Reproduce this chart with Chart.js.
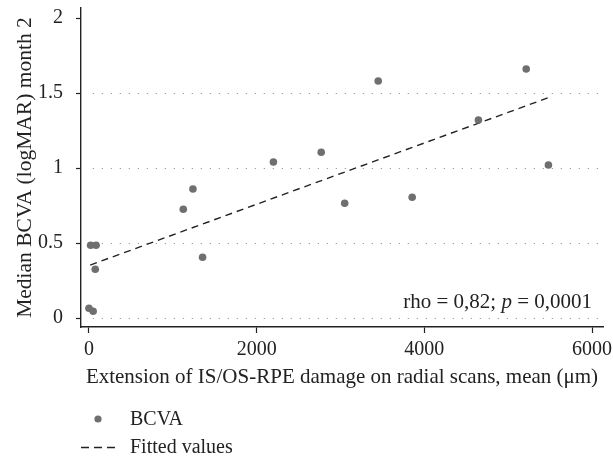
<!DOCTYPE html>
<html>
<head>
<meta charset="utf-8">
<script src="https://cdn.jsdelivr.net/npm/chart.js@4"></script>
<style>
  html, body { margin: 0; padding: 0; background: #fff; }
  #wrap { width: 613px; height: 457px; }
</style>
</head>
<body>
<div id="wrap"><canvas id="chart1" width="613" height="457"></canvas></div>
<script>
// damage extension (um) vs median BCVA
const damageX = [0, 50, 20, 85, 75, 1125, 1240, 1355, 2200, 2770, 3050, 3450, 3855, 4645, 5215, 5480];
const bcvaY = [0.065, 0.045, 0.485, 0.485, 0.325, 0.725, 0.86, 0.405, 1.04, 1.105, 0.765, 1.58, 0.805, 1.32, 1.66, 1.02];
const fitX = [15, 5480];
const fitY = [0.353, 1.469];
const xTicks = [0, 2000, 4000, 6000];
const yTicks = [0, 0.5, 1, 1.5, 2];
const gridAt = [0, 0.5, 1, 1.5];
const xTitle = "Extension of IS/OS-RPE damage on radial scans, mean (\u03bcm)";
const yTitle = "Median BCVA (logMAR) month 2";
const legendLabels = ["BCVA", "Fitted values"];

const serif = "'Liberation Serif', 'DejaVu Serif', serif";
const dotColor = '#6f6f6f';
const ink = '#222';

// dotted horizontal lines, annotation and the stacked legend
const extras = {
  id: 'extras',
  beforeDatasetsDraw(chart) {
    const ctx = chart.ctx, x = chart.scales.x, y = chart.scales.y;
    ctx.save();
    ctx.strokeStyle = '#9a9a9a';
    ctx.lineWidth = 1.2;
    ctx.setLineDash([1.2, 7.8]);
    gridAt.forEach(v => {
      const py = Math.round(y.getPixelForValue(v)) + 0.5;
      ctx.beginPath();
      ctx.moveTo(x.getPixelForValue(45), py);
      ctx.lineTo(x.getPixelForValue(6080), py);
      ctx.stroke();
    });
    ctx.restore();
  },
  afterDraw(chart) {
    const ctx = chart.ctx;
    ctx.save();
    ctx.fillStyle = ink;
    ctx.textBaseline = 'middle';
    // rho annotation
    ctx.textAlign = 'right';
    const tail = " = 0,0001";
    ctx.font = "21px " + serif;
    const wTail = ctx.measureText(tail).width;
    ctx.fillText(tail, 592, 302);
    ctx.font = "italic 21px " + serif;
    const wP = ctx.measureText("p").width;
    ctx.fillText("p", 592 - wTail, 302);
    ctx.font = "21px " + serif;
    ctx.fillText("rho = 0,82; ", 592 - wTail - wP, 302);

    // legend
    ctx.textAlign = 'left';
    ctx.fillStyle = dotColor;
    ctx.beginPath();
    ctx.arc(98, 419, 3.6, 0, Math.PI * 2);
    ctx.fill();
    ctx.strokeStyle = ink;
    ctx.lineWidth = 1.4;
    ctx.setLineDash([8, 5]);
    ctx.beginPath();
    ctx.moveTo(81, 447.5);
    ctx.lineTo(115, 447.5);
    ctx.stroke();
    ctx.fillStyle = ink;
    ctx.font = "20px " + serif;
    ctx.fillText(legendLabels[0], 130, 420);
    ctx.fillText(legendLabels[1], 130, 448);
    ctx.restore();
  }
};

const ctx = document.getElementById('chart1').getContext('2d');
new Chart(ctx, {
  type: 'scatter',
  data: {
    datasets: [
      {
        label: legendLabels[0],
        data: damageX.map((v, i) => ({ x: v, y: bcvaY[i] })),
        backgroundColor: dotColor,
        borderColor: dotColor,
        pointRadius: 3.8,
        borderWidth: 0
      },
      {
        label: legendLabels[1],
        type: 'line',
        data: fitX.map((v, i) => ({ x: v, y: fitY[i] })),
        borderColor: ink,
        borderWidth: 1.4,
        borderDash: [7, 5],
        pointRadius: 0,
        fill: false
      }
    ]
  },
  options: {
    responsive: false,
    animation: false,
    events: [],
    layout: { padding: { top: 8, right: 10, left: 0, bottom: 67 } },
    plugins: { legend: { display: false }, tooltip: { enabled: false } },
    scales: {
      x: {
        type: 'linear',
        min: -95,
        max: 6131,
        afterBuildTicks: s => { s.ticks = xTicks.map(v => ({ value: v })); },
        afterFit: s => { s.height = 63; s.paddingLeft = 0; s.paddingRight = 0; },
        grid: { drawOnChartArea: false, color: ink, tickLength: 6, tickWidth: 1.2 },
        border: { color: ink, width: 1.4 },
        ticks: { color: ink, font: { family: serif, size: 20 }, padding: 5, maxRotation: 0, callback: v => String(v) },
        title: { display: true, text: xTitle, color: ink, font: { family: serif, size: 21 }, padding: { top: 0, bottom: 0 } }
      },
      y: {
        min: -0.06,
        max: 2.0667,
        afterBuildTicks: s => { s.ticks = yTicks.map(v => ({ value: v })); },
        afterFit: s => { s.width = 81; s.paddingTop = 0; s.paddingBottom = 0; },
        grid: { drawOnChartArea: false, color: ink, tickLength: 5, tickWidth: 1.2 },
        border: { color: ink, width: 1.4 },
        ticks: { color: ink, font: { family: serif, size: 20 }, padding: 13, callback: v => String(v) },
        title: { display: true, text: yTitle, color: ink, font: { family: serif, size: 21.5 }, padding: { top: 12, bottom: 0 } }
      }
    }
  },
  plugins: [extras]
});
</script>
</body>
</html>
